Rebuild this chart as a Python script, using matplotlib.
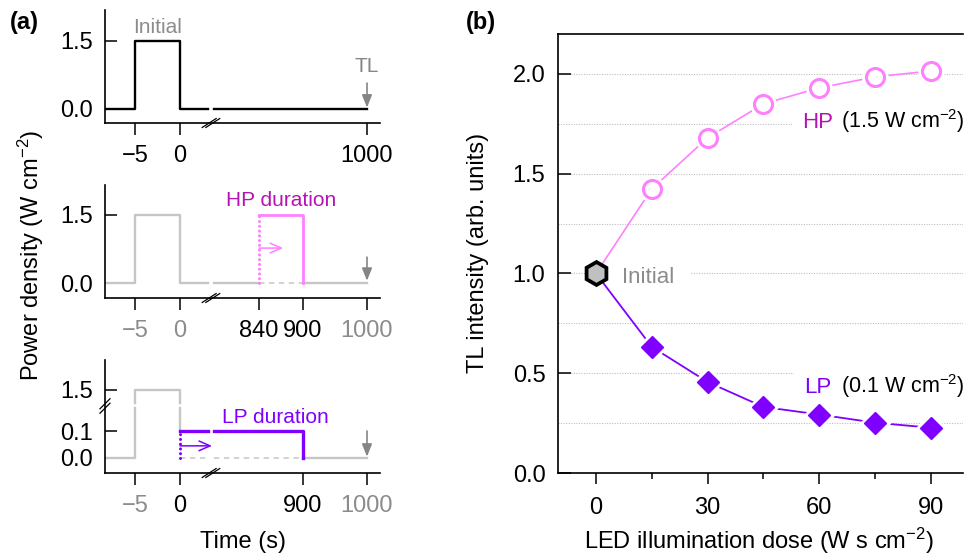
import numpy as np
import matplotlib
matplotlib.use('Agg')
import matplotlib.pyplot as plt
from matplotlib.transforms import Affine2D, ScaledTranslation, blended_transform_factory

plt.rcParams['font.family'] = ['Liberation Sans', 'DejaVu Sans']
plt.rcParams['mathtext.fontset'] = 'custom'
plt.rcParams['mathtext.rm'] = 'Liberation Sans'
plt.rcParams['mathtext.it'] = 'Liberation Sans:italic'
plt.rcParams['mathtext.bf'] = 'Liberation Sans:bold'
plt.rcParams['axes.unicode_minus'] = True

# ---------------- data: panel (a) ----------------
t_start = -8.33
initial_t = [-8.33, -5, -5, 0, 0, 3.1]
initial_p = [0, 0, 1.5, 1.5, 0, 0]
pulse_on, pulse_off, pulse_power = -5, 0, 1.5
t_gap_lo, t_gap_hi = 3.1, 600          # time axis break
t_tl = 1000
hp_start, hp_end, hp_power = 840, 900, 1.5
lp_start, lp_end, lp_power = 0, 900, 0.1
p_gap_lo, p_gap_hi = 0.185, 1.21      # power axis break (bottom panel)

xticks_top = [-5, 0, 1000]
xticks_mid = [-5, 0, 840, 900, 1000]
xticks_bot = [-5, 0, 900, 1000]
yticks_ab = [0.0, 1.5]
yticks_c = [0.0, 0.1, 1.5]

# ---------------- data: panel (b) ----------------
dose = [0, 15, 30, 45, 60, 75, 90]
hp_tl = [1.0, 1.424, 1.68, 1.85, 1.93, 1.985, 2.015]
lp_tl = [1.0, 0.632, 0.456, 0.331, 0.293, 0.252, 0.227]
b_xticks = [0, 30, 60, 90]
b_xminor = [15, 45, 75]
b_yticks = [0.0, 0.5, 1.0, 1.5, 2.0]
b_ygrid = [0.25, 0.75, 1.25, 1.75]

# ---------------- styles ----------------
GRAY = '#C6C6C6'
DGRAY = '#858585'
TGRAY = '#8C8C8C'
PINK = '#FF80FF'
HPTXT = '#B414B4'
PURPLE = '#7F00FF'
FS = 17

# piecewise scales (schematic axes with breaks)
tx_k = np.array([-8.33, -5, 0, 3.1, 600, 840, 900, 1000, 1018])
px_k = np.array([105, 135, 180, 208, 214, 259, 303, 367, 380], float)
fwd_x = lambda t: np.interp(t, tx_k, px_k)
inv_x = lambda p: np.interp(p, px_k, tx_k)
vy_k = np.array([-0.055, 0, 0.1, 0.185, 1.21, 1.5, 2.17])
py_k = np.array([0, 15, 42, 65, 70, 83, 113], float)
fwd_y = lambda v: np.interp(v, vy_k, py_k)
inv_y = lambda p: np.interp(p, py_k, vy_k)

W, H = 964, 556
fig = plt.figure(figsize=(W / 100, H / 100), dpi=100)


def px_axes(l, t, r, b):
    return fig.add_axes([l / W, 1 - b / H, (r - l) / W, (b - t) / H])


def style_a(ax, xt, xcol, yt, ylab):
    for s in ('top', 'right'):
        ax.spines[s].set_visible(False)
    for s in ('left', 'bottom'):
        ax.spines[s].set_linewidth(1.2)
    ax.set_xscale('function', functions=(fwd_x, inv_x))
    ax.set_xlim(tx_k[0], tx_k[-1])
    ax.set_xticks(xt)
    ax.set_xticklabels([f'{v:g}'.replace('-', '\u2212') for v in xt])
    for lab, c in zip(ax.get_xticklabels(), xcol):
        lab.set_color(c)
    ax.set_yticks(yt)
    ax.set_yticklabels(ylab)
    ax.minorticks_off()
    ax.tick_params(axis='y', direction='in', length=8.5, width=1.1, pad=8.5, labelsize=FS)
    ax.tick_params(axis='x', direction='out', length=8.5, width=1.1, pad=7, labelsize=FS)


def slash(ax, trans, x, y, dx, dy, offs):
    base = Affine2D().scale(1 / 72.) + fig.dpi_scale_trans + ScaledTranslation(x, y, trans)
    for ox, oy in offs:
        ax.plot([ox - dx, ox + dx], [oy - dy, oy + dy], color='k', lw=0.9,
                transform=base, clip_on=False, zorder=6)


def xbreak(ax):
    tr = blended_transform_factory(ax.transData, ax.transAxes)
    slash(ax, tr, 300, 0, 5.0, 3.2, [(-1.3, 0), (1.3, 0)])


def tl_arrow(ax, y0, y1):
    ax.annotate('', xy=(t_tl, y1), xytext=(t_tl, y0),
                arrowprops=dict(arrowstyle='-|>,head_length=0.75,head_width=0.3',
                                color=DGRAY, lw=1.2, shrinkA=0, shrinkB=0,
                                mutation_scale=10))


LW = 1.7
# ---------- (a) top ----------
ax1 = px_axes(105, 10, 380, 123)
ax1.set_ylim(-0.31, 2.18)
style_a(ax1, xticks_top, ['k'] * 3, yticks_ab, ['0.0', '1.5'])
ax1.plot(initial_t, initial_p, color='k', lw=LW)
ax1.plot([t_gap_hi, t_tl], [0, 0], color='k', lw=LW)
tl_arrow(ax1, 0.57, 0.03)
ax1.text(-2.5, 1.68, 'Initial', color=TGRAY, fontsize=15, ha='center', va='baseline')
ax1.text(t_tl, 0.82, 'TL', color=DGRAY, fontsize=15, ha='center', va='baseline')
xbreak(ax1)

# ---------- (a) middle ----------
ax2 = px_axes(105, 185, 380, 298)
ax2.set_ylim(-0.33, 2.16)
style_a(ax2, xticks_mid, [TGRAY, TGRAY, 'k', 'k', TGRAY], yticks_ab, ['0.0', '1.5'])
ax2.plot(initial_t, initial_p, color=GRAY, lw=LW)
ax2.plot([t_gap_hi, hp_start], [0, 0], color=GRAY, lw=LW)
ax2.plot([hp_end, t_tl], [0, 0], color=GRAY, lw=LW)
ax2.plot([hp_start, hp_end], [0, 0], color=GRAY, lw=1.1, dashes=(3.5, 3))
ax2.plot([hp_start, hp_start], [0, hp_power], color=PINK, lw=2.2,
         dashes=(0.01, 1.55), dash_capstyle='round')
ax2.plot([hp_start, hp_end, hp_end], [hp_power, hp_power, 0], color=PINK, lw=2.0)
ax2.annotate('', xy=(873, 0.77), xytext=(hp_start, 0.77),
             arrowprops=dict(arrowstyle='->,head_length=0.8,head_width=0.35',
                             color=PINK, lw=1.1, shrinkA=0, shrinkB=0, mutation_scale=10))
ax2.text(870, 1.70, 'HP duration', color=HPTXT, fontsize=15, ha='center', va='baseline')
tl_arrow(ax2, 0.57, 0.05)
xbreak(ax2)

# ---------- (a) bottom ----------
ax3 = px_axes(105, 360, 380, 473)
ax3.set_yscale('function', functions=(fwd_y, inv_y))
ax3.set_ylim(vy_k[0], vy_k[-1])
style_a(ax3, xticks_bot, [TGRAY, 'k', 'k', TGRAY], yticks_c, ['0.0', '0.1', '1.5'])
ax3.plot([t_start, pulse_on, pulse_on], [0, 0, p_gap_lo], color=GRAY, lw=LW)
ax3.plot([pulse_on, pulse_on, pulse_off, pulse_off],
         [p_gap_hi, pulse_power, pulse_power, p_gap_hi], color=GRAY, lw=LW)
ax3.plot([pulse_off, pulse_off], [p_gap_lo, lp_power], color=GRAY, lw=LW)
ax3.plot([lp_start, t_gap_lo], [0, 0], color=GRAY, lw=1.1, dashes=(3.5, 3))
ax3.plot([t_gap_hi, lp_end], [0, 0], color=GRAY, lw=1.1, dashes=(3.5, 3))
ax3.plot([lp_end, t_tl], [0, 0], color=GRAY, lw=LW)
ax3.plot([lp_start, lp_start], [0, lp_power], color=PURPLE, lw=2.2,
         dashes=(0.01, 1.55), dash_capstyle='round')
ax3.plot([lp_start, t_gap_lo], [lp_power, lp_power], color=PURPLE, lw=2.4)
ax3.plot([t_gap_hi, lp_end, lp_end], [lp_power, lp_power, 0], color=PURPLE, lw=2.4)
ax3.annotate('', xy=(400, 0.045), xytext=(lp_start, 0.045),
             arrowprops=dict(arrowstyle='->,head_length=0.8,head_width=0.35',
                             color=PURPLE, lw=1.1, shrinkA=0, shrinkB=0, mutation_scale=10))
ax3.text(862, 0.131, 'LP duration', color=PURPLE, fontsize=15, ha='center', va='baseline')
tl_arrow(ax3, 0.1, 0.005)
xbreak(ax3)
slash(ax3, blended_transform_factory(ax3.transAxes, ax3.transData), 0, 0.6,
      3.6, 3.6, [(0, -1.6), (0, 1.6)])

# ---------- (b) ----------
axb = px_axes(558, 34, 963, 473)
axb.set_xlim(-10.2, 98.6)
axb.set_ylim(0, 2.2)
axb.spines['right'].set_visible(False)
for s in ('left', 'bottom', 'top'):
    axb.spines[s].set_linewidth(1.2)
axb.set_xticks(b_xticks)
axb.set_xticks(b_xminor, minor=True)
axb.set_yticks(b_yticks)
axb.set_yticklabels([f'{v:.1f}' for v in b_yticks])
axb.set_yticks(b_ygrid, minor=True)
axb.set_axisbelow(True)
axb.tick_params(axis='y', which='major', direction='in', length=9.5, width=1.1, pad=9, labelsize=FS)
axb.tick_params(axis='y', which='minor', length=0)
axb.tick_params(axis='x', which='major', direction='out', length=8, width=1.1, pad=9, labelsize=FS)
axb.tick_params(axis='x', which='minor', direction='out', length=4.5, width=1.1)
axb.grid(axis='y', which='both', color='#BEBEBE', lw=0.8, linestyle=(0, (1, 1.3)))

axb.plot(dose, hp_tl, color=PINK, lw=1.2, zorder=2)
axb.plot(dose, lp_tl, color=PURPLE, lw=1.3, zorder=2)
axb.plot(dose[1:], hp_tl[1:], 'o', ms=13, mfc='white', mec='white', mew=6, zorder=3)
axb.plot(dose[1:], lp_tl[1:], 'D', ms=11, mfc='white', mec='white', mew=5, zorder=3)
axb.plot(dose[1:], hp_tl[1:], 'o', ms=13, mfc='white', mec=PINK, mew=2.2, zorder=4)
axb.plot(dose[1:], lp_tl[1:], 'D', ms=11, mfc=PURPLE, mec=PURPLE, mew=1, zorder=4)
axb.plot(dose[:1], hp_tl[:1], 'h', ms=16.5, mfc='#C0C0C0', mec='k', mew=2.7, zorder=5)

bb = dict(boxstyle='square,pad=0.45', fc='white', ec='none')
axb.text(7, 0.953, 'Initial', color=TGRAY, fontsize=16, va='baseline', ha='left',
         bbox=dict(boxstyle='square,pad=0.7', fc='white', ec='none'), zorder=1)
axb.text(55.4, 1.73, 'HP', color=HPTXT, fontsize=16, va='baseline', ha='left', bbox=bb, zorder=1)
axb.text(65.9, 1.73, '(1.5 W cm$^{\u2212 2}$)', color='k', fontsize=15.5, va='baseline', ha='left',
         bbox=bb, zorder=1)
axb.text(56.0, 0.401, 'LP', color=PURPLE, fontsize=16, va='baseline', ha='left', bbox=bb, zorder=1)
axb.text(65.9, 0.401, '(0.1 W cm$^{\u2212 2}$)', color='k', fontsize=15.5, va='baseline', ha='left',
         bbox=bb, zorder=1)

# ---------- labels ----------
fig.text(10 / W, 1 - 22.5 / H, '(a)', fontsize=17, fontweight='bold', ha='left', va='center')
fig.text(466 / W, 1 - 22.5 / H, '(b)', fontsize=17, fontweight='bold', ha='left', va='center')
fig.text(31 / W, 1 - 255 / H, 'Power density (W cm$^{\u2212 2}$)', rotation=90, fontsize=FS,
         ha='center', va='center')
fig.text(243 / W, 1 - 548 / H, 'Time (s)', fontsize=FS, ha='center', va='baseline')
fig.text(478 / W, 1 - 253 / H, 'TL intensity (arb. units)', rotation=90, fontsize=FS,
         ha='center', va='center')
fig.text(759 / W, 1 - 549 / H, 'LED illumination dose (W s cm$^{\u2212 2}$)', fontsize=FS,
         ha='center', va='baseline')

fig.savefig('out.png', dpi=100)
